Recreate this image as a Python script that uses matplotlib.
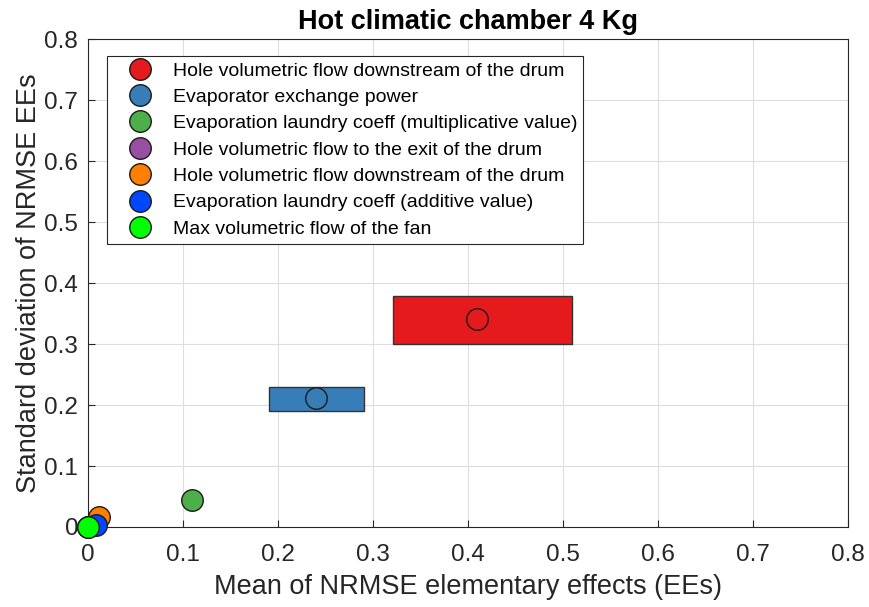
import matplotlib.pyplot as plt
from matplotlib.patches import Rectangle

plt.rcParams['font.family'] = ['Liberation Sans', 'DejaVu Sans']

# elementary effects summary per parameter
labels = ['Hole volumetric flow downstream of the drum',
          'Evaporator exchange power',
          'Evaporation laundry coeff (multiplicative value)',
          'Hole volumetric flow to the exit of the drum',
          'Hole volumetric flow downstream of the drum',
          'Evaporation laundry coeff (additive value)',
          'Max volumetric flow of the fan']
colors = ['#E41A1C', '#377EB8', '#4DAF4A', '#984EA3', '#FF7F00', '#0047FF', '#00FF00']
mean_ee = [0.409, 0.240, 0.109, 0.0, 0.012, 0.008, 0.0]
std_ee = [0.341, 0.2115, 0.044, 0.0, 0.017, 0.003, 0.0]

# confidence boxes (only the two leading parameters have them)
box_x_lo = [0.3207, 0.1905]
box_x_hi = [0.509, 0.291]
box_y_lo = [0.300, 0.1907]
box_y_hi = [0.379, 0.2295]

ticks = [0, 0.1, 0.2, 0.3, 0.4, 0.5, 0.6, 0.7, 0.8]
tick_labels = ['0', '0.1', '0.2', '0.3', '0.4', '0.5', '0.6', '0.7', '0.8']

fig = plt.figure(figsize=(8.7, 6.07), dpi=100)
ax = fig.add_axes([0.1011, 0.1318, 0.8736, 0.8039])
dark = '#262626'

for i in range(len(box_x_lo)):
    ax.add_patch(Rectangle((box_x_lo[i], box_y_lo[i]),
                           box_x_hi[i] - box_x_lo[i], box_y_hi[i] - box_y_lo[i],
                           facecolor=colors[i], edgecolor='#333333', linewidth=1.0, zorder=2))

handles = []
for i in range(len(labels)):
    h, = ax.plot(mean_ee[i], std_ee[i], 'o', markersize=15.5, markerfacecolor=colors[i],
                 markeredgecolor='#1a1a1a', markeredgewidth=1.0, label=labels[i],
                 clip_on=False, zorder=3 + i)
    handles.append(h)

ax.set_xlim(0, 0.8)
ax.set_ylim(0, 0.8)
ax.set_xticks(ticks)
ax.set_xticklabels(tick_labels)
ax.set_yticks(ticks)
ax.set_yticklabels(tick_labels)
ax.grid(True, color='#dedede', linewidth=0.8)
ax.set_axisbelow(True)
ax.tick_params(direction='in', length=5, width=0.8, colors=dark, labelsize=17.5)
ax.tick_params(axis='x', pad=12)
ax.tick_params(axis='y', pad=7)
for s in ax.spines.values():
    s.set_color(dark)
    s.set_linewidth(0.8)

ax.set_xlabel('Mean of NRMSE elementary effects (EEs)', fontsize=19.5, color=dark, labelpad=6)
ax.set_ylabel('Standard deviation of NRMSE EEs', fontsize=19.5, color=dark, labelpad=2)
ax.set_title('Hot climatic chamber 4 Kg', fontsize=19.5, fontweight='bold', color='black', pad=7)

leg = ax.legend(handles=handles, loc='upper left', bbox_to_anchor=(0.025, 0.965),
                borderaxespad=0, fontsize=14, frameon=True, fancybox=False, borderpad=0.3,
                labelspacing=0.45, handletextpad=0.3, handlelength=2.8, markerscale=1.0)
leg.get_frame().set_edgecolor(dark)
leg.get_frame().set_linewidth(0.8)
leg.get_frame().set_alpha(1)
leg.set_zorder(20)

fig.savefig('out.png', dpi=100)
